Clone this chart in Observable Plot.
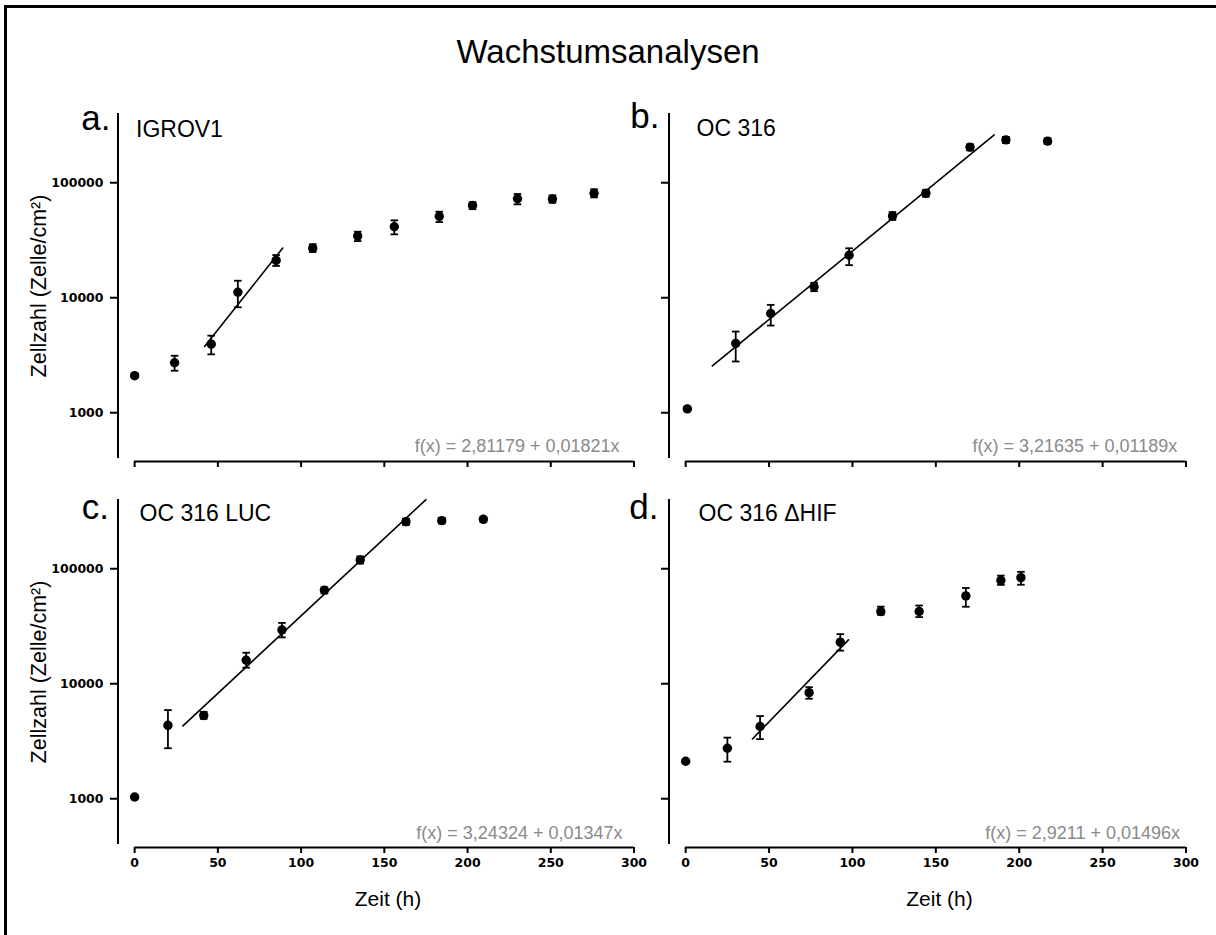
<!DOCTYPE html>
<html><head><meta charset="utf-8">
<script src="https://cdn.jsdelivr.net/npm/d3@7"></script>
<script src="https://cdn.jsdelivr.net/npm/@observablehq/plot@0.6"></script>
<style>
html,body{margin:0;padding:0;background:#fff;}
#page{position:relative;width:1216px;height:935px;overflow:hidden;background:#fff;font-family:"Liberation Sans",Arial,Helvetica,sans-serif;}
#frame{position:absolute;left:4px;top:5px;width:1400px;height:1100px;border-top:3px solid #000;border-left:3px solid #000;box-sizing:border-box;}
#title{position:absolute;left:0;top:35px;width:1216px;text-align:center;font-size:33px;line-height:33px;color:#000;}
#page svg{position:absolute;}
</style></head>
<body><div id="page"><div id="frame"></div><div id="title">Wachstumsanalysen</div></div>
<script>
// ---- labels / ticks ----
const chartTitle = "Wachstumsanalysen";
const panelLetters = ["a.", "b.", "c.", "d."];
const panelNames = ["IGROV1", "OC 316", "OC 316 LUC", "OC 316 \u0394HIF"];
const xTicks = [0, 50, 100, 150, 200, 250, 300];
const yTicks = [1000, 10000, 100000];
const xDomain = [-10, 300];
const yDomain = [400, 400000];
const xAxisTitle = "Zeit (h)";
const yAxisTitle = "Zellzahl (Zelle/cm\u00b2)";

// ---- a. IGROV1 ----
const timeA = [0, 24, 46, 62, 85, 107, 134, 156, 183, 203, 230, 251, 276];
const meanA = [2100, 2720, 3950, 11150, 21100, 27000, 34400, 41400, 51000, 63500, 72600, 72100, 80900];
const lowA  = [2020, 2320, 3220, 8260, 18900, 25000, 31100, 35600, 45500, 58900, 64900, 67000, 74600];
const highA = [2180, 3130, 4680, 14060, 23500, 29200, 37500, 47100, 56000, 67600, 79800, 77600, 87700];

// ---- b. OC 316 ----
const timeB = [1, 30, 51, 77, 98, 124, 144, 170.5, 192, 217];
const meanB = [1080, 4000, 7300, 12450, 23400, 51400, 81000, 204000, 236000, 230000];
const lowB  = [1040, 2790, 5730, 11400, 19200, 47500, 75500, 191000, 222000, 218000];
const highB = [1120, 5080, 8670, 13500, 26900, 55500, 86500, 216000, 250000, 243000];

// ---- c. OC 316 LUC ----
const timeC = [0, 20, 41.5, 67, 88.5, 114, 135.5, 163, 184.5, 209.5];
const meanC = [1035, 4350, 5300, 16000, 29400, 65000, 119000, 256000, 262000, 269000];
const lowC  = [1000, 2750, 4950, 13800, 25300, 61000, 111000, 240000, 248000, 256000];
const highC = [1070, 5900, 5700, 18600, 33800, 69000, 128000, 273000, 277000, 283000];

// ---- d. OC 316 ΔHIF ----
const timeD = [0, 25, 44.6, 74, 92.7, 117, 140, 168, 189, 201];
const meanD = [2120, 2750, 4250, 8360, 23000, 42500, 42500, 58000, 79000, 83600];
const lowD  = [2050, 2100, 3300, 7410, 19400, 39800, 38000, 46700, 72400, 72600];
const highD = [2190, 3400, 5230, 9330, 27000, 46800, 47900, 68000, 87100, 94000];

// ---- regression lines log10(y) = a + b*t ----
const fitIntercept = [2.81179, 3.21635, 3.24324, 2.9211];
const fitSlope = [0.01821, 0.01189, 0.01347, 0.01496];
const fitStart = [42, 16, 29, 40];
const fitEnd = [89, 185, 175, 97.6];

const seriesData = [
  [timeA, meanA, lowA, highA],
  [timeB, meanB, lowB, highB],
  [timeC, meanC, lowC, highC],
  [timeD, meanD, lowD, highD]
];

// ---- layout (pixel placement only) ----
const layout = [
  {left: 0,   top: 90,  height: 386, mb: 18, mr: 16.5, showX: false, showY: true,  lDx: -7.5,  lDy: 16,   nDx: 18,   nDy: 23.7, eDx: -14.5, eDy: -6.3},
  {left: 551, top: 90,  height: 386, mb: 18, mr: 15.5, showX: false, showY: false, lDx: -9.5,  lDy: 14.5, nDx: 27.5, nDy: 22,   eDx: -8.7,  eDy: -6.3},
  {left: 0,   top: 476, height: 459, mb: 91, mr: 16.5, showX: true,  showY: true,  lDx: -9,    lDy: 19.3, nDx: 21.5, nDy: 21.7, eDx: -11.5, eDy: -6},
  {left: 551, top: 476, height: 459, mb: 91, mr: 15.5, showX: true,  showY: false, lDx: -10.5, lDy: 19,   nDx: 29.5, nDy: 21,   eDx: -6,    eDy: -6}
];

const capSymbol = {
  draw(context, size) {
    const w = Math.sqrt(size / Math.PI);
    context.moveTo(-w, 0);
    context.lineTo(w, 0);
  }
};
const fmtDe = v => String(v).replace(".", ",");
const textFont = "Liberation Sans, Arial, Helvetica, sans-serif";
const tickFont = "DejaVu Sans, Verdana, sans-serif";

const page = document.getElementById("page");
document.getElementById("title").textContent = chartTitle;

seriesData.forEach(([time, mean, low, high], i) => {
  const L = layout[i];
  const rows = time.map((t, j) => ({t, v: mean[j], lo: low[j], hi: high[j]}));
  const a = fitIntercept[i], b = fitSlope[i];
  const fitRows = [fitStart[i], fitEnd[i]].map(t => ({t, v: Math.pow(10, a + b * t)}));
  const eq = `f(x) = ${fmtDe(a)} + ${fmtDe(b)}x`;

  const marks = [
    Plot.ruleX([xDomain[0]], {y1: yDomain[0], y2: yDomain[1], stroke: "black", strokeWidth: 2}),
    Plot.ruleY([yDomain[0]], {x1: xTicks[0], x2: xTicks[xTicks.length - 1], dy: 3, stroke: "black", strokeWidth: 2}),
    Plot.axisX({ticks: xTicks, tickSize: 6, tickPadding: 5, dy: 3, strokeWidth: 2,
      tickFormat: L.showX ? d => String(d) : () => "", label: null,
      fontSize: 12.5, fontWeight: "bold", fontFamily: tickFont}),
    Plot.axisY({ticks: yTicks, tickSize: 7.5, tickPadding: 7, strokeWidth: 2,
      tickFormat: L.showY ? d => String(d) : () => "", label: null,
      fontSize: 12.5, fontWeight: "bold", fontFamily: tickFont}),
    Plot.line(fitRows, {x: "t", y: "v", stroke: "black", strokeWidth: 1.6}),
    Plot.ruleX(rows, {x: "t", y1: "lo", y2: "hi", stroke: "black", strokeWidth: 1.8}),
    Plot.dot(rows, {x: "t", y: "lo", symbol: capSymbol, r: 3.8, stroke: "black", strokeWidth: 1.8, fill: "none"}),
    Plot.dot(rows, {x: "t", y: "hi", symbol: capSymbol, r: 3.8, stroke: "black", strokeWidth: 1.8, fill: "none"}),
    Plot.dot(rows, {x: "t", y: "v", r: 4.7, fill: "black", stroke: "none"}),
    Plot.text([panelLetters[i]], {frameAnchor: "top-left", dx: L.lDx, dy: L.lDy, textAnchor: "end", lineAnchor: "bottom",
      fontSize: 35, fontFamily: textFont, fontWeight: "normal", fill: "black"}),
    Plot.text([panelNames[i]], {frameAnchor: "top-left", dx: L.nDx, dy: L.nDy, textAnchor: "start", lineAnchor: "bottom",
      fontSize: 23, fontFamily: textFont, fontWeight: "normal", fill: "black"}),
    Plot.text([eq], {frameAnchor: "bottom-right", dx: L.eDx, dy: L.eDy, textAnchor: "end", lineAnchor: "bottom",
      fontSize: 18, fontFamily: textFont, fontWeight: "normal", fill: "#8a8a8a"})
  ];
  if (L.showY) {
    marks.push(Plot.text([yAxisTitle], {frameAnchor: "left", rotate: -90, dx: -79, textAnchor: "middle", lineAnchor: "middle",
      fontSize: 21.5, fontFamily: textFont, fontWeight: "normal", fill: "black"}));
  }
  if (L.showX) {
    marks.push(Plot.text([xAxisTitle], {frameAnchor: "bottom", dx: 12, dy: 61, textAnchor: "middle", lineAnchor: "bottom",
      fontSize: 21, fontFamily: textFont, fontWeight: "normal", fill: "black"}));
  }

  const svg = Plot.plot({
    width: 650,
    height: L.height,
    marginLeft: 117.5,
    marginRight: L.mr,
    marginTop: 23,
    marginBottom: L.mb,
    style: {background: "transparent", overflow: "visible", fontFamily: tickFont, fontSize: "12px", color: "black"},
    x: {domain: xDomain},
    y: {type: "log", domain: yDomain},
    marks
  });
  svg.style.left = L.left + "px";
  svg.style.top = L.top + "px";
  page.appendChild(svg);
});
</script>
</body></html>
